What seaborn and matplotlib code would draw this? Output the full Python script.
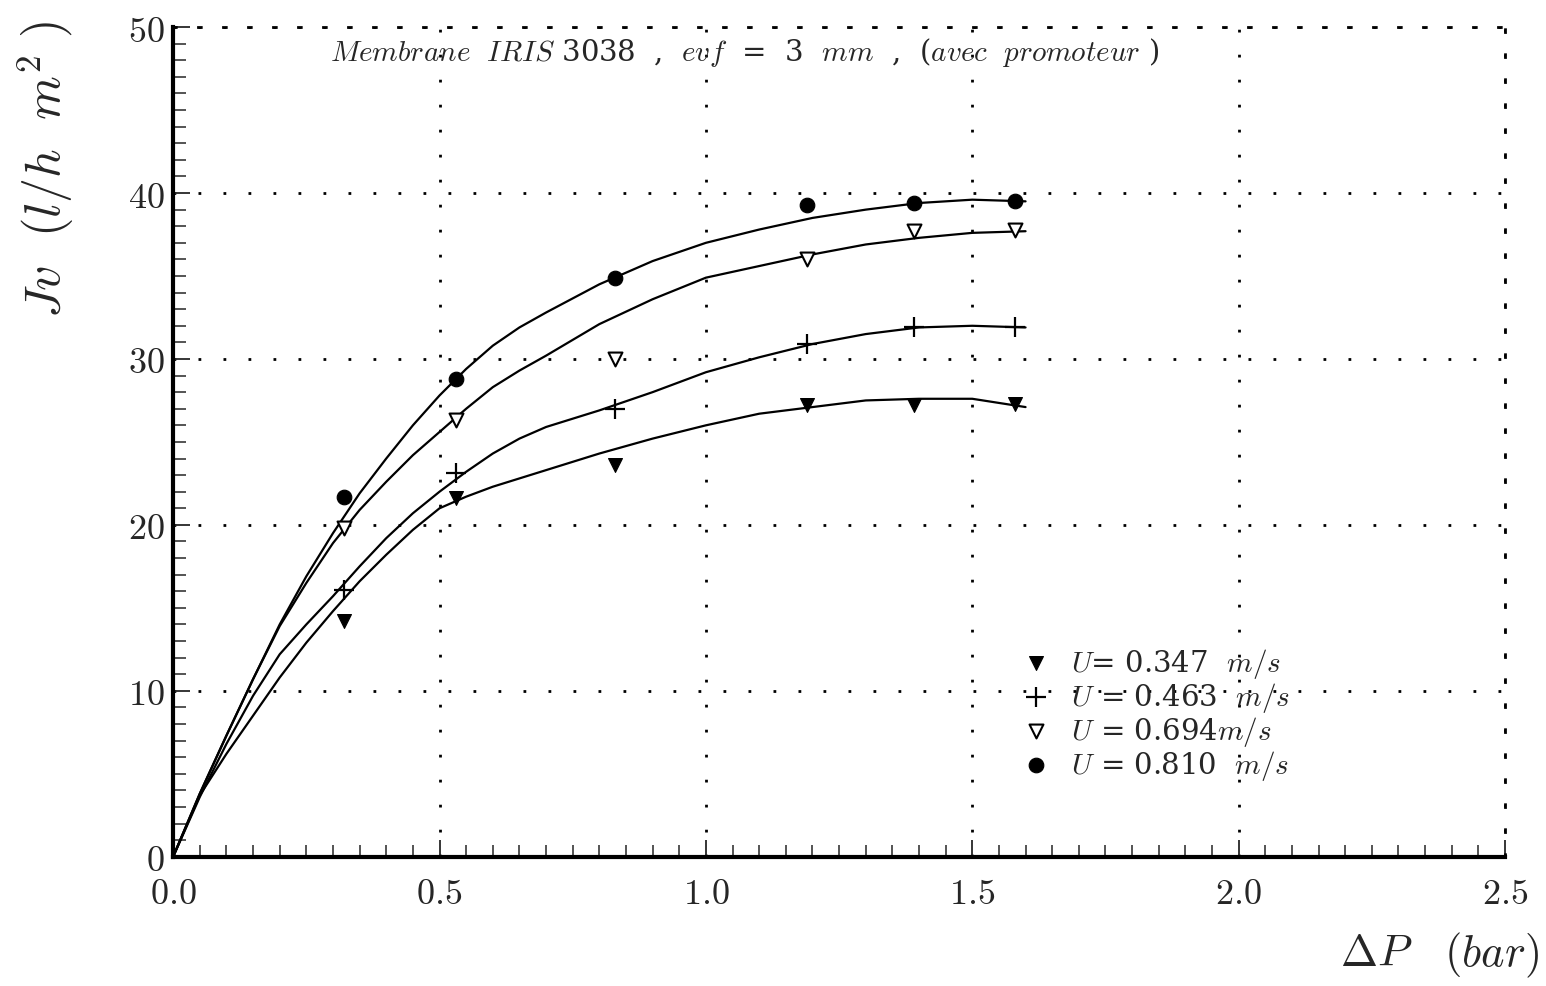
import numpy as np
import pandas as pd
import matplotlib
matplotlib.use("Agg")
import matplotlib.pyplot as plt
import seaborn as sns
from matplotlib.ticker import MultipleLocator

# ------------------------ #
# Data
# ------------------------ #
# measured points, delta P (bar) vs Jv (l/h m2)
dp = [0.32, 0.53, 0.83, 1.19, 1.39, 1.58]

jv_0347 = [14.2, 21.6, 23.6, 27.2, 27.2, 27.3]
jv_0463 = [16.1, 23.1, 27.0, 30.9, 31.9, 31.9]
jv_0694 = [19.8, 26.3, 30.0, 36.0, 37.7, 37.8]
jv_0810 = [21.7, 28.8, 34.9, 39.3, 39.4, 39.5]

# fitted curves
dp_curve = [0.0, 0.05, 0.1, 0.15, 0.2, 0.25, 0.3, 0.35, 0.4, 0.45, 0.5,
            0.55, 0.6, 0.65, 0.7, 0.8, 0.9, 1.0, 1.1, 1.2, 1.3, 1.4, 1.5, 1.6]
fit_0347 = [0.0, 3.7, 6.2, 8.5, 10.8, 12.9, 14.8, 16.6, 18.2, 19.7, 21.0,
            21.7, 22.3, 22.8, 23.3, 24.3, 25.2, 26.0, 26.7, 27.1, 27.5, 27.6, 27.6, 27.1]
fit_0463 = [0.0, 3.6, 6.8, 9.7, 12.2, 14.0, 15.7, 17.5, 19.2, 20.7, 22.0,
            23.2, 24.3, 25.2, 25.9, 26.9, 28.0, 29.2, 30.1, 30.9, 31.5, 31.9, 32.0, 31.9]
fit_0694 = [0.0, 3.8, 7.3, 10.7, 13.9, 16.5, 18.9, 20.9, 22.6, 24.2, 25.6,
            27.0, 28.3, 29.3, 30.2, 32.1, 33.6, 34.9, 35.6, 36.3, 36.9, 37.3, 37.6, 37.7]
fit_0810 = [0.0, 3.8, 7.3, 10.7, 14.0, 16.9, 19.5, 21.9, 24.0, 26.0, 27.8,
            29.4, 30.8, 31.9, 32.8, 34.5, 35.9, 37.0, 37.8, 38.5, 39.0, 39.4, 39.6, 39.5]

labels = [r"$U$= 0.347  $m/s$", r"$U$ = 0.463  $m/s$",
          r"$U$ = 0.694$m/s$", r"$U$ = 0.810  $m/s$"]
series = [jv_0347, jv_0463, jv_0694, jv_0810]
fits = [fit_0347, fit_0463, fit_0694, fit_0810]

x_ticks = [0.0, 0.5, 1.0, 1.5, 2.0, 2.5]
y_ticks = [0, 10, 20, 30, 40, 50]

# ------------------------ #
# Style
# ------------------------ #
sns.set_style("white")
plt.rcParams["font.family"] = ["DejaVu Serif"]
plt.rcParams["mathtext.fontset"] = "cm"

fig = plt.figure(figsize=(15.46, 9.87), dpi=100)
ax = fig.add_axes([0.112, 0.131, 0.8615, 0.8405])

# curves
for ys in fits:
    sns.lineplot(x=dp_curve, y=ys, color="black", lw=1.6, ax=ax, legend=False)

# markers
mk = [dict(marker="v", facecolor="black", edgecolor="black", s=100),
      dict(marker="+", color="black", s=220, linewidth=1.6),
      dict(marker="v", facecolor="white", edgecolor="black", s=100, linewidth=1.5),
      dict(marker="o", facecolor="black", edgecolor="black", s=110)]
for ys, lab, kw in zip(series, labels, mk):
    sns.scatterplot(x=dp, y=ys, label=lab, ax=ax, zorder=5, **kw)

# ------------------------ #
# Axes
# ------------------------ #
ax.set_xlim(0, 2.5)
ax.set_ylim(0, 50)
ax.set_xticks(x_ticks)
ax.set_yticks(y_ticks)
ax.set_xticklabels([f"${v:.1f}$" for v in x_ticks], fontsize=26)
ax.set_yticklabels([f"${v}$" for v in y_ticks], fontsize=26)
ax.xaxis.set_minor_locator(MultipleLocator(0.05))
ax.yaxis.set_minor_locator(MultipleLocator(1))
ax.tick_params(which="both", bottom=True, left=True, top=False, right=False)
ax.tick_params(which="major", direction="in", length=12, width=1.3, pad=6)
ax.tick_params(which="minor", direction="in", length=9, width=1.1)
ax.tick_params(axis="x", which="major", pad=14)

dots = (0, (1, 8))
ax.grid(True, which="major", linestyle=dots, color="black", lw=2.0)
for s in ["left", "bottom"]:
    ax.spines[s].set_linewidth(3.0)
    ax.spines[s].set_color("black")
for s in ["top", "right"]:
    ax.spines[s].set_linestyle(dots)
    ax.spines[s].set_linewidth(2.0)
    ax.spines[s].set_color("black")

ax.set_xlabel(r"$\Delta P\ \ \ (bar)$", fontsize=32)
ax.xaxis.set_label_coords(1.026, -0.118)
ax.xaxis.label.set_horizontalalignment("right")
ax.xaxis.label.set_verticalalignment("center")
ax.set_ylabel(r"$Jv\ \ (l/h\ \ m^2\ )$", fontsize=36)
ax.yaxis.set_label_coords(-0.096, 0.83)
ax.yaxis.label.set_verticalalignment("center")

ax.text(0.295, 48.55,
        r"$Membrane\ \ IRIS$ 3038  ,  $evf$  =  3  $mm$  ,  ($avec\ \ promoteur$ )",
        fontsize=21, va="center", ha="left")

leg = ax.legend(loc="upper left", bbox_to_anchor=(0.626, 0.272), frameon=False,
                fontsize=21, handletextpad=0.7, labelspacing=0.0,
                borderpad=0, handlelength=1.0)

fig.savefig("out.png", dpi=100, facecolor="white")
